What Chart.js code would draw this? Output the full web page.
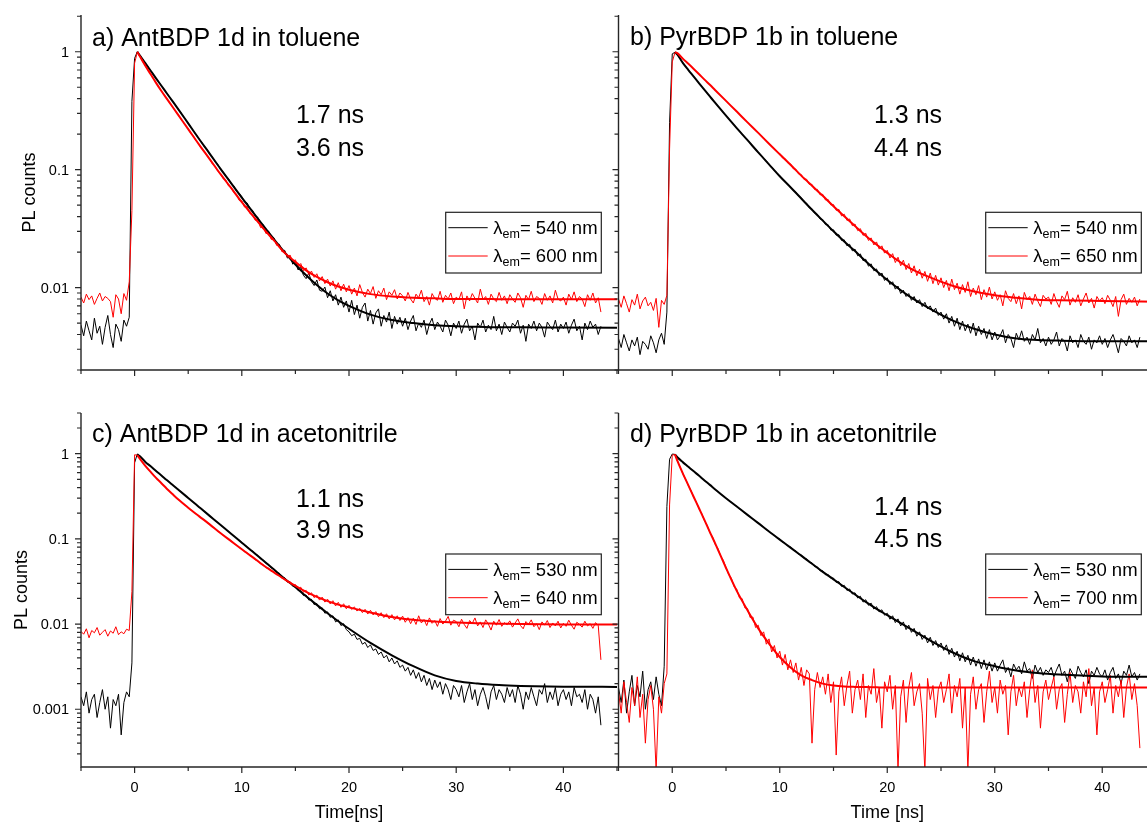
<!DOCTYPE html>
<html>
<head>
<meta charset="utf-8">
<script src="https://cdn.jsdelivr.net/npm/chart.js@4.4.1/dist/chart.umd.min.js"></script>
<style>
  html, body { margin: 0; padding: 0; background: #fff; overflow: hidden; }
  #wrap { position: relative; width: 1147px; height: 823px; overflow: hidden; }
  #wrap canvas { position: absolute; left: 0; top: 0; }
</style>
</head>
<body>
<div id="wrap">
  <canvas id="pa" width="1160" height="823"></canvas>
  <canvas id="pb" width="1160" height="823"></canvas>
  <canvas id="pc" width="1160" height="823"></canvas>
  <canvas id="pd" width="1160" height="823"></canvas>
</div>
<script>
// ---- text ----
const panelTitles = ['a) AntBDP 1d in toluene', 'b) PyrBDP 1b in toluene',
                     'c) AntBDP 1d in acetonitrile', 'd) PyrBDP 1b in acetonitrile'];
const lifetimeLabels = [['1.7 ns', '3.6 ns'], ['1.3 ns', '4.4 ns'], ['1.1 ns', '3.9 ns'], ['1.4 ns', '4.5 ns']];
const legendWavelengths = [['540 nm', '600 nm'], ['540 nm', '650 nm'], ['530 nm', '640 nm'], ['530 nm', '700 nm']];
const yAxisTitle = 'PL counts';
const xAxisTitles = ['Time[ns]', 'Time [ns]'];

// ---- ticks ----
const xMajorTicks = [0, 10, 20, 30, 40];
const xTickLabels = ['0', '10', '20', '30', '40'];
const xMinorTicks = [-5, 5, 15, 25, 35, 45];
const yTicksTop = [0.01, 0.1, 1];
const yTickLabelsTop = ['0.01', '0.1', '1'];
const yTicksBottom = [0.001, 0.01, 0.1, 1];
const yTickLabelsBottom = ['0.001', '0.01', '0.1', '1'];

// ---- measured decays: time channels (ns) ----
const timeNs = [
-5,-4.75,-4.5,-4.25,-4,-3.75,-3.5,-3.25,-3,-2.75,-2.5,-2.25,-2,-1.75,-1.5,-1.25,-1,-0.75,-0.5,-0.25,
0,0.25,0.5,0.75,1,1.25,1.5,1.75,2,2.25,2.5,2.75,3,3.25,3.5,3.75,4,4.25,4.5,4.75,
5,5.25,5.5,5.75,6,6.25,6.5,6.75,7,7.25,7.5,7.75,8,8.25,8.5,8.75,9,9.25,9.5,9.75,
10,10.25,10.5,10.75,11,11.25,11.5,11.75,12,12.25,12.5,12.75,13,13.25,13.5,13.75,14,14.25,14.5,14.75,
15,15.25,15.5,15.75,16,16.25,16.5,16.75,17,17.25,17.5,17.75,18,18.25,18.5,18.75,19,19.25,19.5,19.75,
20,20.25,20.5,20.75,21,21.25,21.5,21.75,22,22.25,22.5,22.75,23,23.25,23.5,23.75,24,24.25,24.5,24.75,
25,25.25,25.5,25.75,26,26.25,26.5,26.75,27,27.25,27.5,27.75,28,28.25,28.5,28.75,29,29.25,29.5,29.75,
30,30.25,30.5,30.75,31,31.25,31.5,31.75,32,32.25,32.5,32.75,33,33.25,33.5,33.75,34,34.25,34.5,34.75,
35,35.25,35.5,35.75,36,36.25,36.5,36.75,37,37.25,37.5,37.75,38,38.25,38.5,38.75,39,39.25,39.5,39.75,
40,40.25,40.5,40.75,41,41.25,41.5,41.75,42,42.25,42.5,42.75,43,43.25,43.5
];

// a) AntBDP 1d, toluene
const dataA540 = [
0.0048,0.0039,0.0052,0.0043,0.0036,0.0055,0.0041,0.0047,0.0033,0.0046,0.0058,0.0040,0.0031,0.0049,0.0044,0.0035,0.0053,0.0047,0.0056,0.38,
0.88,1.0,0.93,0.865,0.80,0.745,0.69,0.64,0.595,0.553,0.515,0.478,0.445,0.413,0.385,0.358,0.333,0.31,0.287,0.266,
0.247,0.230,0.212,0.198,0.183,0.171,0.157,0.148,0.136,0.128,0.117,0.111,0.101,0.096,0.088,0.084,0.076,0.073,0.066,0.063,
0.059,0.0532,0.0522,0.0466,0.0452,0.0405,0.0394,0.0351,0.0342,0.0305,0.0301,0.0268,0.0264,0.0232,0.0233,0.0204,0.0207,0.0178,0.0184,0.0158,
0.0166,0.0141,0.0150,0.0127,0.0119,0.0133,0.0112,0.0104,0.0116,0.0095,0.0093,0.0101,0.0082,0.0094,0.0077,0.0087,0.0071,0.0083,0.0068,0.0077,
0.0062,0.0078,0.0059,0.0071,0.0055,0.0068,0.0074,0.0052,0.0064,0.0049,0.0061,0.0066,0.0047,0.0058,0.0051,0.0062,0.0045,0.0057,0.0049,0.0056,
0.0047,0.0055,0.0044,0.0052,0.0058,0.0043,0.0050,0.0046,0.0053,0.0040,0.0049,0.0055,0.0044,0.0051,0.0047,0.0042,0.0053,0.0048,0.0039,0.0050,
0.0045,0.0052,0.0041,0.0049,0.0054,0.0043,0.0047,0.0036,0.0050,0.0046,0.0053,0.0042,0.0048,0.0044,0.0057,0.0043,0.0049,0.0040,0.0051,0.0046,
0.0042,0.0050,0.0047,0.0053,0.0041,0.0048,0.0035,0.0049,0.0045,0.0052,0.0043,0.0050,0.0046,0.0038,0.0051,0.0047,0.0044,0.0053,0.0042,0.0049,
0.0045,0.0051,0.0041,0.0048,0.0054,0.0043,0.0047,0.0036,0.0050,0.0044,0.0052,0.0046,0.0049,0.0040,0.0047
];
const dataA600 = [
0.0083,0.0074,0.0088,0.0079,0.0085,0.0072,0.0081,0.0090,0.0077,0.0084,0.0081,0.0076,0.0056,0.0087,0.0080,0.0060,0.0089,0.0078,0.0112,0.045,
0.80,0.99,0.91,0.83,0.76,0.70,0.645,0.593,0.545,0.503,0.465,0.431,0.40,0.371,0.345,0.32,0.297,0.276,0.256,0.238,
0.222,0.203,0.192,0.175,0.165,0.150,0.144,0.130,0.124,0.112,0.108,0.097,0.093,0.084,0.082,0.073,0.071,0.064,0.062,0.055,
0.0545,0.0482,0.0488,0.0425,0.0416,0.0372,0.0378,0.0322,0.0330,0.0287,0.0291,0.0256,0.0262,0.0228,0.0231,0.0201,0.0205,0.0181,0.0189,0.0166,
0.0172,0.0151,0.0160,0.0139,0.0147,0.0129,0.0138,0.0122,0.0131,0.0114,0.0124,0.0108,0.0118,0.0103,0.0114,0.0097,0.0110,0.0094,0.0107,0.0092,
0.0104,0.0088,0.0099,0.0085,0.0106,0.0091,0.0083,0.0097,0.0089,0.0102,0.0081,0.0094,0.0087,0.0099,0.0079,0.0092,0.0086,0.0096,0.0080,0.0090,
0.0085,0.0077,0.0091,0.0080,0.0074,0.0088,0.0082,0.0095,0.0076,0.0084,0.0071,0.0089,0.0081,0.0078,0.0093,0.0075,0.0086,0.0080,0.0090,0.0073,
0.0083,0.0079,0.0092,0.0066,0.0085,0.0077,0.0089,0.0081,0.0074,0.0097,0.0079,0.0084,0.0072,0.0088,0.0080,0.0076,0.0091,0.0078,0.0085,0.0073,
0.0087,0.0080,0.0075,0.0090,0.0082,0.0068,0.0086,0.0079,0.0093,0.0076,0.0084,0.0081,0.0072,0.0089,0.0078,0.0085,0.0074,0.0095,0.0080,0.0077,
0.0083,0.0071,0.0088,0.0079,0.0092,0.0076,0.0084,0.0080,0.0069,0.0087,0.0078,0.0090,0.0074,0.0082,0.0062
];

// b) PyrBDP 1b, toluene
const dataB540 = [
0.0037,0.0031,0.0040,0.0034,0.0029,0.0036,0.0032,0.0038,0.0027,0.0035,0.0033,0.0030,0.0039,0.0034,0.0028,0.0036,0.0041,0.0033,0.0062,0.25,
0.96,0.99,0.94,0.865,0.80,0.748,0.70,0.655,0.615,0.576,0.54,0.506,0.475,0.445,0.418,0.392,0.368,0.346,0.325,0.305,
0.287,0.271,0.253,0.240,0.224,0.213,0.199,0.190,0.177,0.169,0.157,0.150,0.139,0.133,0.124,0.119,0.110,0.106,0.098,0.094,
0.089,0.0826,0.0801,0.0741,0.0718,0.0665,0.0646,0.0594,0.0579,0.0531,0.0519,0.0475,0.0466,0.0426,0.0418,0.0381,0.0378,0.0342,0.0341,0.0307,
0.0309,0.0278,0.0281,0.0251,0.0254,0.0226,0.0233,0.0205,0.0212,0.0186,0.0193,0.0169,0.0174,0.0152,0.0159,0.0139,0.0144,0.0126,0.0133,0.0115,
0.0121,0.0106,0.0112,0.0097,0.0103,0.0089,0.0095,0.0084,0.0089,0.0078,0.0084,0.0074,0.0079,0.0069,0.0075,0.0066,0.0070,0.0062,0.0067,0.0058,
0.0062,0.0054,0.0060,0.0050,0.0057,0.0047,0.0055,0.0044,0.0052,0.0043,0.0049,0.0041,0.0050,0.0039,0.0047,0.0040,0.0045,0.0037,0.0044,0.0036,
0.0042,0.0036,0.0039,0.0044,0.0034,0.0040,0.0037,0.0031,0.0041,0.0036,0.0043,0.0035,0.0038,0.0033,0.0040,0.0036,0.0045,0.0034,0.0037,0.0032,
0.0038,0.0033,0.0036,0.0042,0.0032,0.0037,0.0035,0.0029,0.0039,0.0034,0.0036,0.0031,0.0040,0.0035,0.0033,0.0038,0.0030,0.0036,0.0034,0.0039,
0.0033,0.0037,0.0031,0.0036,0.0040,0.0034,0.0028,0.0037,0.0035,0.0032,0.0039,0.0034,0.0036,0.0031,0.0038
];
const dataB650 = [
0.0080,0.0068,0.0085,0.0073,0.0062,0.0079,0.0071,0.0088,0.0066,0.0077,0.0083,0.0070,0.0075,0.0064,0.0081,0.0046,0.0078,0.0072,0.0086,0.15,
0.82,0.985,0.97,0.92,0.87,0.83,0.79,0.752,0.715,0.68,0.645,0.612,0.58,0.552,0.525,0.498,0.472,0.449,0.426,0.404,
0.384,0.362,0.346,0.327,0.312,0.294,0.281,0.265,0.253,0.238,0.228,0.215,0.206,0.194,0.186,0.174,0.167,0.157,0.151,0.141,
0.137,0.126,0.124,0.114,0.112,0.102,0.101,0.092,0.091,0.083,0.083,0.075,0.075,0.0678,0.0681,0.0612,0.0618,0.0553,0.0559,0.0502,
0.0506,0.0452,0.0461,0.0405,0.0419,0.0371,0.0382,0.0335,0.0346,0.0304,0.0316,0.0277,0.0289,0.0251,0.0264,0.0230,0.0244,0.0212,0.0226,0.0196,
0.0207,0.0178,0.0194,0.0163,0.0181,0.0153,0.0171,0.0142,0.0160,0.0133,0.0153,0.0126,0.0143,0.0120,0.0137,0.0113,0.0133,0.0108,0.0127,0.0105,
0.0121,0.0100,0.0115,0.0094,0.0118,0.0096,0.0109,0.0088,0.0106,0.0091,0.0112,0.0084,0.0099,0.0087,0.0104,0.0079,0.0096,0.0083,0.0101,0.0080,
0.0092,0.0078,0.0087,0.0070,0.0094,0.0081,0.0076,0.0089,0.0073,0.0085,0.0066,0.0091,0.0079,0.0084,0.0072,0.0088,0.0077,0.0069,0.0086,0.0080,
0.0083,0.0072,0.0089,0.0076,0.0068,0.0085,0.0079,0.0093,0.0071,0.0082,0.0075,0.0087,0.0070,0.0080,0.0090,0.0074,0.0081,0.0067,0.0084,0.0077,
0.0082,0.0073,0.0086,0.0078,0.0069,0.0084,0.0057,0.0079,0.0088,0.0072,0.0081,0.0075,0.0083,0.0070,0.0080
];

// c) AntBDP 1d, acetonitrile
const dataC530 = [
0.0014,0.0011,0.0016,0.0009,0.0013,0.0015,0.0008,0.0012,0.0017,0.0010,0.0014,0.0006,0.0013,0.0011,0.0015,0.0005,0.0012,0.0016,0.0014,0.0035,
0.78,0.99,0.93,0.86,0.80,0.753,0.71,0.667,0.626,0.59,0.555,0.521,0.49,0.462,0.435,0.409,0.385,0.363,0.342,0.321,
0.302,0.285,0.266,0.253,0.236,0.224,0.209,0.199,0.185,0.176,0.164,0.156,0.145,0.138,0.128,0.123,0.114,0.109,0.101,0.097,
0.0908,0.0839,0.0811,0.0741,0.0722,0.0656,0.0639,0.0581,0.0566,0.0514,0.0502,0.0454,0.0445,0.0401,0.0395,0.0354,0.0349,0.0313,0.0311,0.0278,
0.0276,0.0247,0.0246,0.0216,0.0219,0.0191,0.0195,0.0169,0.0174,0.0151,0.0155,0.0134,0.0139,0.0120,0.0125,0.0106,0.0112,0.0096,0.0101,0.0086,
0.0081,0.0073,0.0076,0.0066,0.0068,0.0058,0.0061,0.0053,0.0057,0.0049,0.0051,0.0044,0.0047,0.0040,0.0043,0.0036,0.0040,0.0034,0.0037,0.0031,
0.0033,0.0028,0.0031,0.0025,0.0029,0.0023,0.0027,0.0021,0.0025,0.0019,0.0023,0.0017,0.0022,0.0018,0.0021,0.0015,0.0020,0.0017,0.0013,0.0019,
0.0017,0.0014,0.0019,0.0012,0.0016,0.0020,0.0013,0.0017,0.0011,0.0015,0.0018,0.0014,0.0010,0.0016,0.0019,0.0013,0.0017,0.0015,0.0012,0.0018,
0.0014,0.0017,0.0012,0.0019,0.0015,0.0010,0.0016,0.0013,0.0018,0.0014,0.0011,0.0017,0.0015,0.0020,0.0012,0.0016,0.0013,0.0018,0.0011,0.0015,
0.0017,0.0013,0.0016,0.0011,0.0018,0.0014,0.0015,0.0012,0.0017,0.0010,0.0015,0.0013,0.0009,0.0014,0.00065
];
const dataC640 = [
0.0082,0.0076,0.0088,0.0069,0.0084,0.0079,0.0091,0.0074,0.0080,0.0086,0.0072,0.0083,0.0078,0.0093,0.0075,0.0081,0.0077,0.0087,0.0084,0.024,
0.97,0.96,0.87,0.79,0.72,0.66,0.61,0.563,0.52,0.483,0.45,0.418,0.388,0.362,0.338,0.316,0.295,0.277,0.261,0.246,
0.233,0.218,0.208,0.195,0.186,0.174,0.167,0.156,0.149,0.139,0.133,0.123,0.118,0.110,0.106,0.098,0.095,0.088,0.085,0.079,
0.0764,0.0705,0.0691,0.0632,0.0621,0.0567,0.0558,0.0507,0.0501,0.0456,0.0455,0.0414,0.0415,0.0376,0.0379,0.0342,0.0345,0.0311,0.0316,0.0285,
0.0291,0.0258,0.0271,0.0236,0.0249,0.0219,0.0233,0.0204,0.0219,0.0191,0.0207,0.0181,0.0196,0.0172,0.0188,0.0163,0.0180,0.0157,0.0173,0.0151,
0.0166,0.0148,0.0159,0.0142,0.0153,0.0136,0.0149,0.0131,0.0145,0.0128,0.0140,0.0122,0.0136,0.0119,0.0132,0.0115,0.0129,0.0112,0.0125,0.0110,
0.0124,0.0105,0.0119,0.0101,0.0117,0.0099,0.0125,0.0103,0.0113,0.0096,0.0118,0.0102,0.0110,0.0094,0.0116,0.0100,0.0108,0.0123,0.0097,0.0111,
0.0107,0.0093,0.0114,0.0099,0.0089,0.0110,0.0102,0.0118,0.0095,0.0106,0.0091,0.0112,0.0100,0.0085,0.0108,0.0097,0.0113,0.0094,0.0104,0.0098,
0.0109,0.0092,0.0103,0.0115,0.0096,0.0088,0.0107,0.0099,0.0112,0.0093,0.0101,0.0086,0.0106,0.0097,0.0110,0.0091,0.0103,0.0095,0.0108,0.0090,
0.0102,0.0094,0.0111,0.0097,0.0087,0.0105,0.0099,0.0092,0.0108,0.0095,0.0101,0.0089,0.0104,0.0096,0.0038
];

// d) PyrBDP 1b, acetonitrile
const dataD530 = [
0.0018,0.0012,0.0022,0.0009,0.0016,0.0025,0.0011,0.0019,0.0014,0.0028,0.0010,0.0017,0.0021,0.0013,0.0024,0.0015,0.0011,0.0032,0.24,0.86,
0.99,0.98,0.90,0.84,0.79,0.745,0.70,0.66,0.62,0.584,0.55,0.517,0.485,0.456,0.43,0.404,0.38,0.358,0.337,0.318,
0.301,0.282,0.269,0.253,0.241,0.226,0.215,0.201,0.192,0.180,0.172,0.161,0.154,0.144,0.138,0.128,0.123,0.115,0.110,0.103,
0.0992,0.0915,0.0893,0.0821,0.0806,0.0736,0.0722,0.0658,0.0648,0.0589,0.0582,0.0527,0.0523,0.0471,0.0469,0.0421,0.0422,0.0379,0.0382,0.0344,
0.0346,0.0308,0.0315,0.0276,0.0285,0.0248,0.0258,0.0225,0.0233,0.0202,0.0212,0.0181,0.0193,0.0166,0.0176,0.0150,0.0160,0.0139,0.0147,0.0127,
0.0134,0.0114,0.0125,0.0104,0.0115,0.0095,0.0106,0.0086,0.0097,0.0080,0.0089,0.0072,0.0081,0.0066,0.0074,0.0060,0.0070,0.0056,0.0064,0.0053,
0.0060,0.0049,0.0057,0.0044,0.0052,0.0041,0.0048,0.0037,0.0046,0.0036,0.0043,0.0033,0.0041,0.0032,0.0039,0.0030,0.0038,0.0029,0.0036,0.0028,
0.0035,0.0028,0.0033,0.0038,0.0027,0.0031,0.0024,0.0034,0.0029,0.0032,0.0026,0.0036,0.0028,0.0030,0.0023,0.0033,0.0027,0.0031,0.0025,0.0029,
0.0027,0.0031,0.0024,0.0029,0.0034,0.0025,0.0028,0.0021,0.0030,0.0026,0.0023,0.0032,0.0027,0.0024,0.0029,0.0020,0.0028,0.0025,0.0031,0.0026,
0.0024,0.0029,0.0022,0.0027,0.0031,0.0023,0.0026,0.0020,0.0028,0.0025,0.0033,0.0024,0.0027,0.0022,0.0026
];
const dataD700 = [
0.0016,0.0009,0.0021,0.0012,0.0007,0.0018,0.0011,0.0024,0.0008,0.0015,0.0004,0.0013,0.0019,0.0010,0.00019,0.0014,0.0009,0.0020,0.0026,0.25,
0.96,0.98,0.81,0.685,0.575,0.50,0.42,0.367,0.306,0.268,0.224,0.197,0.163,0.144,0.118,0.105,0.086,0.077,0.063,0.056,
0.0462,0.0381,0.0345,0.0276,0.0256,0.0203,0.0199,0.0155,0.0152,0.0119,0.0121,0.0091,0.0097,0.0073,0.0081,0.0058,0.0067,0.0047,0.0056,0.0040,
0.0048,0.0033,0.0044,0.0029,0.0038,0.0027,0.0035,0.0022,0.0031,0.0019,0.0029,0.0026,0.0004,0.0017,0.0027,0.0018,0.0024,0.0015,0.0026,0.0012,
0.0021,0.00029,0.0016,0.0024,0.0011,0.0019,0.0028,0.0009,0.0017,0.0022,0.0013,0.0026,0.0008,0.0019,0.0015,0.0030,0.0012,0.0018,0.0006,0.0021,
0.0016,0.0025,0.0010,0.0019,0.00019,0.0014,0.0022,0.0007,0.0018,0.0027,0.0011,0.0016,0.0020,0.0009,0.00019,0.0023,0.0013,0.0019,0.0008,0.0017,
0.0021,0.0012,0.0017,0.0026,0.0009,0.0019,0.0014,0.0023,0.0006,0.0018,0.00019,0.0015,0.0024,0.0010,0.0017,0.0020,0.0007,0.0016,0.0028,0.0012,
0.0018,0.0009,0.0022,0.0015,0.0019,0.0005,0.0016,0.0025,0.0011,0.0018,0.0014,0.0021,0.0008,0.0017,0.0029,0.0012,0.0019,0.0006,0.0016,0.0022,
0.0013,0.0018,0.0024,0.0010,0.0017,0.0020,0.0007,0.0015,0.0027,0.0012,0.0019,0.0016,0.0009,0.0021,0.0014,0.0030,0.0011,0.0018,0.0005,0.0016,
0.0021,0.0012,0.0017,0.0025,0.0009,0.0019,0.0014,0.0022,0.0008,0.0018,0.0026,0.0013,0.0020,0.0011,0.00035
];

// ---- fitted decay curves (ns, normalised counts) ----
const fitTime = [0.25,0.5,1,1.5,2,2.5,3,3.5,4,5,6,7,8,9,10,11,12,13,14,15,16,17,18,19,20,22,24,26,28,30,32,34,36,40,45];
const fitA540 = [1.0,0.93,0.80,0.69,0.595,0.515,0.445,0.385,0.333,0.247,0.183,0.137,0.102,0.077,0.058,0.044,0.0335,0.0257,0.0199,0.0157,0.0127,0.0105,0.0089,0.0078,0.0070,0.0059,0.0053,0.0050,0.0048,0.0047,0.00465,0.0046,0.0046,0.00458,0.00457];
const fitA600 = [1.0,0.91,0.76,0.645,0.545,0.465,0.40,0.345,0.297,0.221,0.164,0.123,0.092,0.070,0.053,0.041,0.0318,0.0251,0.0197,0.0165,0.0140,0.0123,0.0111,0.0102,0.0096,0.0088,0.0084,0.0082,0.0081,0.0080,0.0080,0.00798,0.00797,0.00796,0.00796];
const fitB540 = [0.99,0.94,0.80,0.70,0.615,0.54,0.475,0.418,0.368,0.287,0.225,0.178,0.140,0.111,0.088,0.071,0.057,0.0457,0.037,0.030,0.0246,0.0204,0.0167,0.0138,0.0116,0.0085,0.0066,0.0053,0.0045,0.0040,0.0037,0.0036,0.00355,0.0035,0.0035];
const fitB650 = [0.99,0.97,0.87,0.79,0.715,0.645,0.58,0.525,0.472,0.383,0.311,0.252,0.205,0.166,0.135,0.110,0.089,0.073,0.060,0.049,0.0403,0.0332,0.0275,0.0232,0.0197,0.0148,0.0122,0.0104,0.0093,0.0086,0.0082,0.0079,0.0078,0.0077,0.0076];
const fitC530 = [0.98,0.93,0.80,0.71,0.626,0.555,0.49,0.435,0.385,0.302,0.237,0.186,0.146,0.115,0.090,0.071,0.0556,0.0436,0.0341,0.027,0.0212,0.0168,0.0134,0.0108,0.0088,0.0060,0.0043,0.0032,0.0025,0.00215,0.0020,0.00192,0.00188,0.00184,0.00183];
const fitC640 = [0.96,0.87,0.72,0.61,0.52,0.45,0.388,0.338,0.295,0.232,0.185,0.148,0.117,0.094,0.0755,0.061,0.049,0.0405,0.0335,0.028,0.0238,0.0208,0.0186,0.0169,0.0157,0.0137,0.0121,0.0112,0.0107,0.0104,0.0102,0.0101,0.0100,0.0099,0.0099];
const fitD530 = [0.98,0.90,0.79,0.70,0.62,0.55,0.485,0.43,0.38,0.30,0.24,0.191,0.153,0.122,0.098,0.079,0.0635,0.051,0.041,0.0335,0.0272,0.0222,0.0182,0.0151,0.0127,0.0090,0.0064,0.0047,0.0037,0.0032,0.00285,0.00266,0.00255,0.00243,0.0024];
const fitD700 = [0.98,0.81,0.58,0.425,0.31,0.227,0.166,0.12,0.088,0.0455,0.0245,0.0145,0.0089,0.0059,0.0041,0.0031,0.0025,0.0022,0.0020,0.0019,0.00185,0.00183,0.00182,0.00181,0.0018,0.0018,0.0018,0.0018,0.0018,0.0018,0.0018,0.0018,0.0018,0.0018,0.0018];

// ---- drawing ----
const FONT = '"Liberation Sans", Arial, Helvetica, sans-serif';
const AXIS_COLOR = '#262626';
const RED = '#ff0000';
const BLACK = '#000000';

function pairs(xs, ys) { return xs.map((t, i) => ({ x: t, y: ys[i] })); }

// Axes, tick marks, labels, panel title, lifetimes and legend box
const panelDecor = {
  id: 'panelDecor',
  afterDatasetsDraw(chart) {
    const o = chart.options.plugins.panelDecor;
    const { ctx, chartArea: a } = chart;
    const xs = chart.scales.x, ys = chart.scales.y;
    ctx.save();

    // axis lines
    ctx.strokeStyle = AXIS_COLOR;
    ctx.lineWidth = 1.4;
    ctx.beginPath();
    ctx.moveTo(a.left, a.top);
    ctx.lineTo(a.left, a.bottom);
    ctx.lineTo(a.right + 1, a.bottom);
    ctx.stroke();

    // tick marks
    ctx.lineWidth = 1.2;
    ctx.beginPath();
    xMajorTicks.forEach(v => { const p = xs.getPixelForValue(v); ctx.moveTo(p, a.bottom); ctx.lineTo(p, a.bottom + 6); });
    xMinorTicks.forEach(v => { const p = xs.getPixelForValue(v); ctx.moveTo(p, a.bottom); ctx.lineTo(p, a.bottom + 4); });
    o.yTicks.forEach(v => { const p = ys.getPixelForValue(v); ctx.moveTo(a.left, p); ctx.lineTo(a.left - 6, p); });
    const d0 = Math.floor(Math.log10(ys.min)), d1 = Math.ceil(Math.log10(ys.max));
    for (let d = d0; d <= d1; d++) {
      for (let k = 2; k <= 9; k++) {
        const v = k * Math.pow(10, d);
        if (v < ys.min * 0.999 || v > ys.max * 1.001) continue;
        const p = ys.getPixelForValue(v);
        ctx.moveTo(a.left, p); ctx.lineTo(a.left - 4, p);
      }
    }
    ctx.stroke();

    ctx.fillStyle = '#000';
    // y tick labels + axis title
    if (o.yTickLabels) {
      ctx.font = '14.5px ' + FONT;
      ctx.textAlign = 'right';
      ctx.textBaseline = 'alphabetic';
      let maxW = 0;
      o.yTicks.forEach((v, i) => {
        const p = ys.getPixelForValue(v);
        ctx.fillText(o.yTickLabels[i], a.left - 12, p + 5);
        maxW = Math.max(maxW, ctx.measureText(o.yTickLabels[i]).width);
      });
      ctx.save();
      ctx.font = '18px ' + FONT;
      ctx.translate(a.left - 12 - maxW - 6, (a.top + a.bottom) / 2);
      ctx.rotate(-Math.PI / 2);
      ctx.textAlign = 'center';
      ctx.fillText(yAxisTitle, 0, 0);
      ctx.restore();
    }

    // x tick labels + axis title
    if (o.xTitle) {
      ctx.font = '14.5px ' + FONT;
      ctx.textAlign = 'center';
      ctx.textBaseline = 'alphabetic';
      xMajorTicks.forEach((v, i) => ctx.fillText(xTickLabels[i], xs.getPixelForValue(v), a.bottom + 25));
      ctx.font = '18px ' + FONT;
      ctx.fillText(o.xTitle, (a.left + a.right) / 2, a.bottom + 50.5);
    }

    // panel title
    ctx.font = '25px ' + FONT;
    ctx.textAlign = 'left';
    ctx.fillText(o.title, a.left + o.titleDx, a.top + o.titleDy);

    // lifetimes
    ctx.textAlign = 'center';
    ctx.fillText(o.lifetimes[0], a.left + o.tauDx, a.top + o.tauDy[0]);
    ctx.fillText(o.lifetimes[1], a.left + o.tauDx, a.top + o.tauDy[1]);

    // legend
    const bx = a.left + o.legendDx, by = a.top + o.legendDy, bw = 155.6, bh = 60.7;
    ctx.fillStyle = '#fff';
    ctx.fillRect(bx, by, bw, bh);
    ctx.strokeStyle = '#222';
    ctx.lineWidth = 1.2;
    ctx.strokeRect(bx, by, bw, bh);
    const rows = [{ c: BLACK, ly: 15.4, ty: 22 }, { c: RED, ly: 43.7, ty: 50 }];
    rows.forEach((r, i) => {
      ctx.strokeStyle = r.c;
      ctx.lineWidth = 1;
      ctx.beginPath();
      ctx.moveTo(bx + 2.6, by + r.ly);
      ctx.lineTo(bx + 42, by + r.ly);
      ctx.stroke();
      ctx.fillStyle = '#000';
      ctx.textAlign = 'left';
      let tx = bx + 47.6;
      const base = by + r.ty;
      ctx.font = '18.5px ' + FONT;
      ctx.fillText('\u03bb', tx, base);
      tx += ctx.measureText('\u03bb').width;
      ctx.font = '12.5px ' + FONT;
      ctx.fillText('em', tx, base + 4);
      tx += ctx.measureText('em').width;
      ctx.font = '18.5px ' + FONT;
      ctx.fillText('= ' + o.legend[i], tx, base);
    });

    ctx.restore();
  }
};

function makePanel(canvasId, area, yRange, series, deco) {
  const W = 1160, H = 823;
  return new Chart(document.getElementById(canvasId), {
    type: 'line',
    data: {
      datasets: [
        { data: pairs(fitTime, series.fitRed), borderColor: RED, borderWidth: 2, pointRadius: 0, cubicInterpolationMode: 'monotone', order: 0 },
        { data: pairs(fitTime, series.fitBlack), borderColor: BLACK, borderWidth: 2, pointRadius: 0, cubicInterpolationMode: 'monotone', order: 1 },
        { data: pairs(timeNs, series.red), borderColor: RED, borderWidth: 1, pointRadius: 0, tension: 0, order: 2 },
        { data: pairs(timeNs, series.black), borderColor: BLACK, borderWidth: 1, pointRadius: 0, tension: 0, order: 3 }
      ]
    },
    options: {
      responsive: false,
      animation: false,
      devicePixelRatio: 1,
      events: [],
      layout: { padding: { left: area.left, top: area.top, right: W - area.right, bottom: H - area.bottom } },
      scales: {
        x: { type: 'linear', min: -5, max: 45, display: false },
        y: { type: 'logarithmic', min: yRange[0], max: yRange[1], display: false }
      },
      plugins: {
        legend: { display: false },
        tooltip: { enabled: false },
        panelDecor: deco
      }
    },
    plugins: [panelDecor]
  });
}

const rangeTop = [0.002, 2.05];
const rangeBottom = [0.00021, 3];

makePanel('pa', { left: 81, top: 15, right: 617, bottom: 370 }, rangeTop,
  { black: dataA540, red: dataA600, fitBlack: fitA540, fitRed: fitA600 },
  { yTicks: yTicksTop, yTickLabels: yTickLabelsTop, xTitle: null, title: panelTitles[0], titleDx: 11, titleDy: 30.7,
    lifetimes: lifetimeLabels[0], tauDx: 249, tauDy: [108, 140.7], legend: legendWavelengths[0], legendDx: 364.7, legendDy: 197.3 });

makePanel('pb', { left: 618.5, top: 15, right: 1156, bottom: 370 }, rangeTop,
  { black: dataB540, red: dataB650, fitBlack: fitB540, fitRed: fitB650 },
  { yTicks: yTicksTop, yTickLabels: null, xTitle: null, title: panelTitles[1], titleDx: 11.5, titleDy: 30.2,
    lifetimes: lifetimeLabels[1], tauDx: 289.5, tauDy: [108.3, 140.7], legend: legendWavelengths[1], legendDx: 367.2, legendDy: 197.3 });

makePanel('pc', { left: 81, top: 413, right: 617, bottom: 767 }, rangeBottom,
  { black: dataC530, red: dataC640, fitBlack: fitC530, fitRed: fitC640 },
  { yTicks: yTicksBottom, yTickLabels: yTickLabelsBottom, xTitle: xAxisTitles[0], title: panelTitles[2], titleDx: 11, titleDy: 28.7,
    lifetimes: lifetimeLabels[2], tauDx: 249, tauDy: [93.7, 125.3], legend: legendWavelengths[2], legendDx: 364.7, legendDy: 141 });

makePanel('pd', { left: 618.5, top: 413, right: 1156, bottom: 767 }, rangeBottom,
  { black: dataD530, red: dataD700, fitBlack: fitD530, fitRed: fitD700 },
  { yTicks: yTicksBottom, yTickLabels: null, xTitle: xAxisTitles[1], title: panelTitles[3], titleDx: 11.5, titleDy: 28.7,
    lifetimes: lifetimeLabels[3], tauDx: 289.8, tauDy: [102, 133.7], legend: legendWavelengths[3], legendDx: 367.2, legendDy: 141 });
</script>
</body>
</html>
